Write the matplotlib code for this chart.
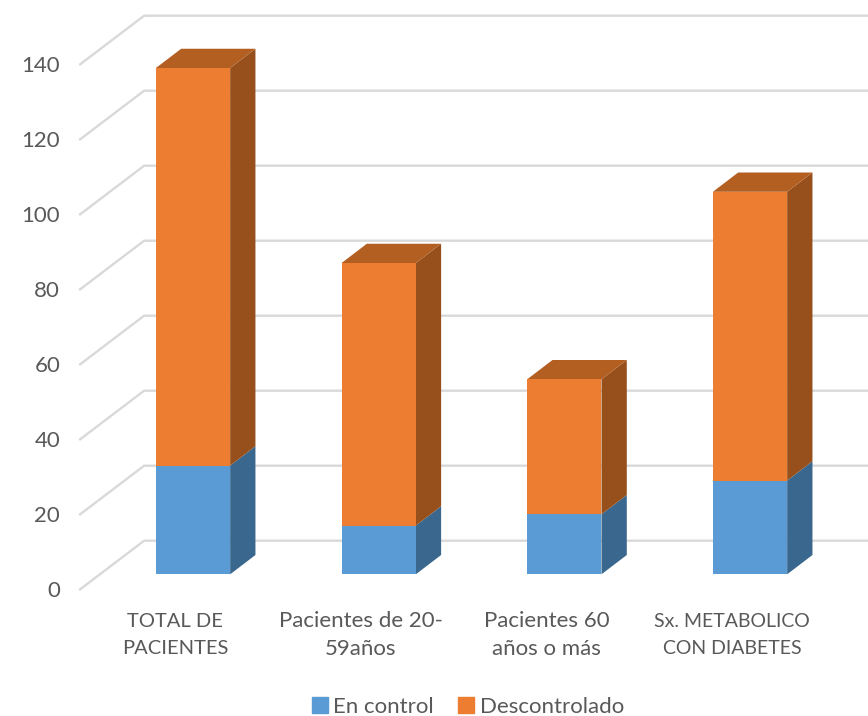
import matplotlib
matplotlib.use("Agg")
import matplotlib.pyplot as plt
from matplotlib.patches import Patch

categorias = ["TOTAL DE\nPACIENTES", "Pacientes de 20-\n59años", "Pacientes 60\naños o más", "Sx. METABOLICO\nCON DIABETES"]
en_control = [29, 13, 16, 25]
descontrolado = [106, 70, 36, 77]
ticks = [0, 20, 40, 60, 80, 100, 120, 140]

AZUL = "#5B9BD5"
AZUL_LADO = "#3A678E"
NARANJA = "#ED7D31"
NARANJA_LADO = "#97501B"
NARANJA_TOPE = "#B45F22"
GRIS = "#D9D9D9"
TEXTO = "#595959"

plt.rcParams["font.family"] = ["Lato", "DejaVu Sans"]

# las mayusculas de Lato salen anchas, esas etiquetas van algo mas pequeñas
tam_etiqueta = [14.5, 16, 16, 14]

# escala: 185.67 px por categoria, 3.75 px por unidad
PX_X = 185.67
PX_Y = 3.75
ancho = 74.3 / PX_X
prof_x = 25.3 / PX_X
prof_y = 19.3 / PX_Y
pared_y = 33.6 / PX_Y    # altura del suelo al fondo
frente_x = 64 / PX_X     # largo de la linea lateral
frente_y = 48.6 / PX_Y

fig = plt.figure(figsize=(8.68, 7.16), dpi=100)
ax = fig.add_axes([0, 0, 1, 1])
ax.set_xlim(-193 / PX_X, (868 - 193) / PX_X)
ax.set_ylim(-(716 - 574.3) / PX_Y, 574.3 / PX_Y)
ax.axis("off")

# lineas de la pared y del lateral
x_fondo = -ancho / 2 - 11.7 / PX_X
for t in ticks:
    y = t + pared_y
    ax.plot([x_fondo - frente_x, x_fondo, ax.get_xlim()[1]],
            [y - frente_y, y, y], color=GRIS, lw=1.7, zorder=1,
            solid_joinstyle="miter")
    ax.text(x_fondo - frente_x - 20 / PX_X, t - 3.8, str(t), ha="right", va="center_baseline",
            fontsize=16, color=TEXTO)


def caja(x, y0, y1, color, lado, tope=None):
    # cara frontal, lateral y, si toca, la tapa
    izq = x - ancho / 2
    der = x + ancho / 2
    ax.fill([der, der + prof_x, der + prof_x, der],
            [y0, y0 + prof_y, y1 + prof_y, y1], color=lado, lw=0, zorder=3)
    ax.fill([izq, der, der, izq], [y0, y0, y1, y1], color=color, lw=0, zorder=4)
    if tope:
        ax.fill([izq, der, der + prof_x, izq + prof_x],
                [y1, y1, y1 + prof_y, y1 + prof_y], color=tope, lw=0, zorder=3)


for i in range(len(categorias)):
    caja(i, 0, en_control[i], AZUL, AZUL_LADO)
    caja(i, en_control[i], en_control[i] + descontrolado[i], NARANJA, NARANJA_LADO, NARANJA_TOPE)
    # las etiquetas van centradas en la celda del suelo, no en la barra
    ax.text(i - 18 / PX_X, -(635 - 574.3) / PX_Y, categorias[i], ha="center", va="center",
            fontsize=tam_etiqueta[i], color=TEXTO, linespacing=1.55 * 16 / tam_etiqueta[i])

leyenda = fig.legend(handles=[Patch(color=AZUL, label="En control"),
                              Patch(color=NARANJA, label="Descontrolado")],
                     loc="center", bbox_to_anchor=(468 / 868, 1 - 707 / 716), ncol=2,
                     frameon=False, fontsize=16, handlelength=0.7, handleheight=0.7,
                     handletextpad=0.25, columnspacing=1.1, labelcolor=TEXTO)

fig.savefig("out.png", dpi=100, facecolor="white")
